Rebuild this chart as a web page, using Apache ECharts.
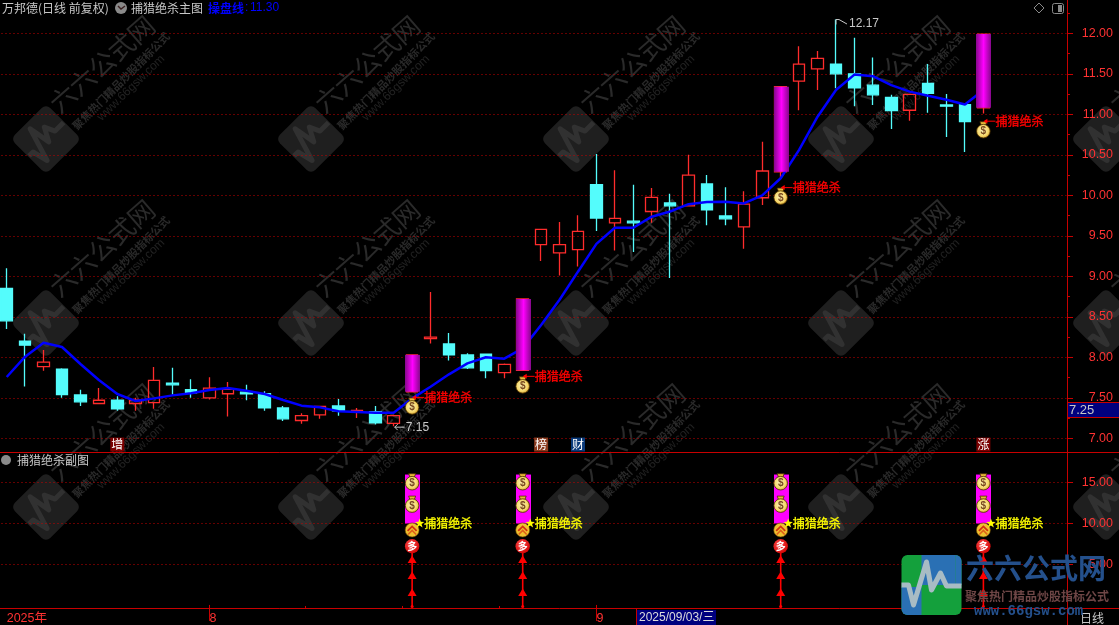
<!DOCTYPE html>
<html><head><meta charset="utf-8">
<style>html,body{margin:0;padding:0;background:#000}#c{width:1119px;height:625px}</style>
<script src="https://cdn.jsdelivr.net/npm/echarts@6/dist/echarts.min.js"></script>
</head><body><div id="c"></div>
<script>
// ---------- data ----------
const opens  = [8.85,8.20,7.885,7.855,7.535,7.43,7.47,7.43,7.44,7.68,7.60,7.50,7.55,7.57,7.55,7.375,7.22,7.29,7.40,7.33,7.33,7.185,7.575,8.23,8.164,8.03,8.04,7.81,7.84,9.39,9.29,9.33,10.13,9.66,9.68,9.80,9.905,9.87,10.14,9.745,9.61,9.97,10.29,11.41,11.56,11.62,11.50,11.36,11.21,11.05,11.38,11.115,11.12,11.08];
const closes = [8.45,8.15,7.94,7.54,7.45,7.47,7.365,7.47,7.715,7.66,7.56,7.62,7.605,7.55,7.375,7.24,7.28,7.395,7.34,7.345,7.19,7.28,8.03,8.25,8.03,7.87,7.835,7.913,8.72,9.58,9.39,9.555,9.72,9.715,9.66,9.975,9.87,10.25,9.82,9.71,9.89,10.30,11.34,11.62,11.69,11.50,11.325,11.24,11.045,11.246,11.26,11.10,10.91,11.99];
const lows   = [8.35,7.64,7.835,7.50,7.40,7.42,7.34,7.34,7.365,7.54,7.50,7.48,7.27,7.47,7.34,7.215,7.18,7.24,7.28,7.25,7.17,7.15,7.57,8.17,7.96,7.855,7.74,7.74,7.83,9.19,9.01,9.12,9.56,9.32,9.30,9.66,8.98,9.87,9.63,9.63,9.34,9.88,10.20,11.05,11.30,11.32,11.10,11.115,10.82,10.92,11.02,10.72,10.535,11.01];
const highs  = [9.10,8.29,8.09,7.865,7.60,7.62,7.52,7.50,7.88,7.87,7.73,7.755,7.695,7.66,7.58,7.40,7.31,7.395,7.485,7.375,7.40,7.29,8.03,8.806,8.30,8.05,8.04,7.925,8.72,9.58,9.67,9.755,10.51,10.31,10.13,10.09,10.02,10.50,10.25,10.10,10.05,10.66,11.34,11.84,11.78,12.17,11.946,11.70,11.24,11.24,11.62,11.25,11.135,11.99];
const tradeLine = [7.757,8.008,8.18,8.127,7.917,7.72,7.547,7.46,7.493,7.53,7.555,7.596,7.62,7.588,7.547,7.473,7.403,7.382,7.333,7.325,7.316,7.316,7.493,7.637,7.79,7.925,8.0,7.983,8.11,8.40,8.71,9.057,9.40,9.60,9.60,9.736,9.80,9.89,9.917,9.92,9.90,10.0,10.21,10.56,10.97,11.30,11.49,11.47,11.36,11.28,11.23,11.18,11.12,11.30];
const axisNames = ['2025年','','','','','','','','','','','8','','','','','','','','','','','','','','','','','','','','','9','','','','','','','','','','','','','','','','','','','','','','','','',''];
const priceTicks = [7,7.5,8,8.5,9,9.5,10,10.5,11,11.5,12];
const priceMinorTicks = [7.25,7.75,8.25,8.75,9.25,9.75,10.25,10.75,11.25,11.75,12.25];
const subTicks = [5,10,15];
const signalIndex = [22,28,42,53];
const bagPrice = [7.40,7.66,9.99,10.81];
const subBarLow = [10,10,10,10];
const subBarHigh = [16,16,16,16];
const subBags = [15,12.25];
const subGold = 9.2, subRed = 7.2, subText = 10;
const arrowLevels = [5.5,3.55,1.47];
const extremeIndex = [21,45];
const extremeValue = [7.15,12.17];
const tagIndex = [6,29,31,53];
const tagText = ['增','榜','财','涨'];
const tagColor = ['#7a0000','#8a3a1e','#0a3a7a','#7a0000'];
const tagLevel = 6.923;
const signalName = '捕猎绝杀';
const lastPrice = '7.25';
// ---------- style helpers ----------
const CJK = '"Noto Sans CJK SC","Liberation Sans",sans-serif';
const NUM = '"Liberation Sans","DejaVu Sans",sans-serif';
const LINE = '#c80000', RED='#ff3232', CYAN='#54fcfc', GREY='#c8c8c8';
const BAND_LEFT = -2.5, BAND_W = 1068.82;
const dot = [1,3];

function text(t,x,y,fill,font,align,heavy){
  const style={text:t,x:x,y:y,fill:fill,font:font,align:align||'left',verticalAlign:'middle',textAlign:align||'left',textVerticalAlign:'middle'};
  if(heavy){style.stroke=fill;style.lineWidth=heavy;}
  return {type:'text',style:style};
}
function bag(cx,cy){
  return [
    {type:'polygon',shape:{points:[[cx-3.5,cy-8],[cx+3.5,cy-8],[cx+1.8,cy-3.5],[cx-1.8,cy-3.5]]},style:{fill:'#e8b838',stroke:'#4a3000',lineWidth:.8}},
    {type:'circle',shape:{cx:cx,cy:cy+1.5,r:6.8},style:{fill:{type:'radial',x:.45,y:.45,r:.6,colorStops:[{offset:0,color:'#fff6b8'},{offset:.65,color:'#f5d76a'},{offset:1,color:'#c88a18'}]},stroke:'#4a3000',lineWidth:.8}},
    text('$',cx,cy+1.8,'#7a4a20','bold 10px '+NUM,'center')
  ];
}
// main-pane bars
function renderMagenta(p,api){
  const a=api.coord([api.value(0),api.value(2)]), b=api.coord([api.value(0),api.value(1)]);
  const x=Math.round(a[0])-7;
  return {type:'rect',shape:{x:x,y:a[1],width:15,height:b[1]-a[1]},style:{fill:{type:'linear',x:0,y:0,x2:1,y2:0,colorStops:[{offset:0,color:'#86088c'},{offset:.5,color:'#ff00ff'},{offset:1,color:'#86088c'}]}}};
}
function renderBag(p,api){
  const c=api.coord([api.value(0),api.value(1)]);
  const x=c[0], y=c[1];
  return {type:'group',children:bag(x,y).concat([
    {type:'line',shape:{x1:x+2,y1:y-8.5,x2:x+12,y2:y-8.5},style:{stroke:'#ff0000',lineWidth:1}},
    {type:'polygon',shape:{points:[[x,y-8.5],[x+4,y-11],[x+4,y-6]]},style:{fill:'#ff0000'}},
    text(signalName,x+12,y-8.5,'#ff0000','12px '+CJK,'left',.35)
  ])};
}
function renderExtreme(p,api){
  const c=api.coord([api.value(0),api.value(1)]);
  const v=api.value(1), x=c[0], y=c[1];
  const up=p.dataIndex===1;
  const tx=x+(up?13:12), ty=y+(up?4.5:1.5);
  const kids=[text(v.toFixed(2),tx,ty,GREY,'12px '+NUM)];
  if(up){
    kids.push({type:'polyline',shape:{points:[[x,y+5],[x,y],[x+3,y],[x+11,ty]]},style:{stroke:GREY,fill:'none',lineWidth:1}});
  }else{
    kids.push({type:'polyline',shape:{points:[[x+4,y-2],[x+1,y+1],[x+4,y+4]]},style:{stroke:GREY,fill:'none',lineWidth:1}});
    kids.push({type:'line',shape:{x1:x+1,y1:y+1,x2:x+11,y2:y+1},style:{stroke:GREY,lineWidth:1}});
  }
  return {type:'group',children:kids};
}
function renderTag(p,api){
  const c=api.coord([api.value(0),api.value(1)]);
  const x=c[0]-7, y=c[1]-7;
  const i=p.dataIndex;
  return {type:'group',children:[
    {type:'rect',shape:{x:x,y:y,width:14,height:14},style:{fill:tagColor[i]}},
    text(tagText[i],c[0],c[1],'#ffffff','12px '+CJK,'center')
  ]};
}
function renderSignal(p,api){
  const i=api.value(0);
  const X=api.coord([i,0])[0];
  const Y=v=>api.coord([i,v])[1];
  const top=Y(api.value(2)), bot=Y(api.value(1));
  const x=Math.round(X)-7;
  const kids=[];
  kids.push({type:'line',shape:{x1:X,y1:Y(subRed),x2:X,y2:Y(-0.15)},style:{stroke:'#ff0000',lineWidth:1.6}});
  arrowLevels.forEach(v=>{const y=Y(v);kids.push({type:'polygon',shape:{points:[[X,y-4.5],[X+4.5,y+3],[X-4.5,y+3]]},style:{fill:'#ff0000'}});});
  kids.push({type:'circle',shape:{cx:X,cy:Y(-0.2),r:1.5},style:{fill:'#ff0000'}});
  kids.push({type:'rect',shape:{x:x,y:top,width:15,height:bot-top},style:{fill:'#ff00ff'}});
  subBags.forEach(v=>{bag(X,Y(v)-1).forEach(k=>kids.push(k));});
  const gy=Y(subGold), ry=Y(subRed);
  kids.push({type:'circle',shape:{cx:X,cy:gy,r:7},style:{fill:'#f0c030',stroke:'#6a4a00',lineWidth:.6}});
  kids.push({type:'polyline',shape:{points:[[X-4.5,gy+1],[X,gy-3.5],[X+4.5,gy+1]]},style:{stroke:'#d03010',fill:'none',lineWidth:1.8}});
  kids.push({type:'polyline',shape:{points:[[X-4,gy+4.5],[X,gy+.5],[X+4,gy+4.5]]},style:{stroke:'#e06018',fill:'none',lineWidth:1.6}});
  kids.push({type:'circle',shape:{cx:X,cy:ry,r:7.2},style:{fill:{type:'radial',x:.4,y:.35,r:.7,colorStops:[{offset:0,color:'#ff5050'},{offset:1,color:'#d00000'}]}}});
  kids.push(text('多',X,ry,'#ffffff','bold 10px '+CJK,'center'));
  const sx=X+7.5, sy=Y(subText), pts=[];
  for(let k=0;k<10;k++){const r=k%2?2:5,a=-Math.PI/2+k*Math.PI/5;pts.push([sx+r*Math.cos(a),sy+r*Math.sin(a)]);}
  kids.push({type:'polygon',shape:{points:pts},style:{fill:'#ffff00'}});
  kids.push(text(signalName,X+12,sy,'#ffff00','12px '+CJK,'left',.3));
  return {type:'group',children:kids};
}

// ---------- decoration ----------
const pulse=[[-30,0],[-23,0],[-18,20],[-5,-23],[0,5],[9,-12],[15,1],[30,1]];
const tileX=[46,311,576,841,1106], tileY=[139,323,507];
const gfx=[];
tileY.forEach(ty=>tileX.forEach(tx=>{
  gfx.push({type:'group',x:tx,y:ty,z:-1,silent:true,children:[
    {type:'group',rotation:Math.PI/4,children:[
      {type:'rect',shape:{x:-25,y:-25,width:50,height:50,r:6},style:{fill:'#1f1f1f'},z:-1},
      {type:'polyline',shape:{points:pulse.map(q=>[q[0]*.8,q[1]*.8])},style:{stroke:'#313131',fill:'none',lineWidth:5,lineJoin:'round'},z:-1}
    ]},
    {type:'text',x:56,y:-75,rotation:.72,z:-1,style:{text:'六六公式网',fill:'#2a2a2a',font:'26px '+CJK,align:'center',verticalAlign:'middle',textAlign:'center',textVerticalAlign:'middle'}},
    {type:'text',x:75,y:-58,rotation:Math.PI/4,z:-1,style:{text:'聚焦热门精品炒股指标公式',fill:'#2a2a2a',font:'bold 11px '+CJK,align:'center',verticalAlign:'middle',textAlign:'center',textVerticalAlign:'middle'}},
    {type:'text',x:85,y:-51,rotation:.77,z:-1,style:{text:'www.66gsw.com',fill:'#222222',font:'12px '+NUM,align:'center',verticalAlign:'middle',textAlign:'center',textVerticalAlign:'middle'}}
  ]});
}));
function gline(x1,y1,x2,y2,c){return {type:'line',z:60,silent:true,shape:{x1:x1,y1:y1,x2:x2,y2:y2},style:{stroke:c||LINE,lineWidth:1}};}
function gtext(t,x,y,fill,font,align){const e=text(t,x,y,fill,font,align);e.z=70;e.silent=true;return e;}
gfx.push(gline(1067.5,0,1067.5,625),gline(0,452.5,1119,452.5),gline(0,608.5,1119,608.5));
[305,402,499].forEach(x=>gfx.push(gline(x+.5,606,x+.5,609)));
gfx.push(gline(636.5,609,636.5,625));
// header texts
gfx.push(gtext('万邦德(日线 前复权)',2,8,GREY,'12px '+CJK));
gfx.push({type:'circle',z:70,silent:true,shape:{cx:121,cy:8,r:6},style:{fill:'#8a8a8a'}});
gfx.push({type:'polyline',z:71,silent:true,shape:{points:[[118,6],[121,9],[125,6]]},style:{stroke:'#3a2020',fill:'none',lineWidth:1.4}});
gfx.push(gtext('捕猎绝杀主图',131,8,GREY,'12px '+CJK));
gfx.push(gtext('操盘线',208,8,'#0000ff','bold 12px '+CJK));
gfx.push(gtext(':',245,8,'#0000ff','12px '+NUM));
gfx.push(gtext(tradeLine[tradeLine.length-1].toFixed(2),250,8,'#0000ff','12px '+NUM));
gfx.push({type:'circle',z:70,silent:true,shape:{cx:6,cy:460,r:5},style:{fill:'#8a8a8a'}});
gfx.push(gtext('捕猎绝杀副图',17,460,GREY,'12px '+CJK));
gfx.push({type:'polygon',z:70,silent:true,shape:{points:[[1039,3],[1044,8],[1039,13],[1034,8]]},style:{fill:'none',stroke:'#8a8a8a',lineWidth:1}});
gfx.push({type:'rect',z:70,silent:true,shape:{x:1052.5,y:3.5,width:11,height:10,r:2},style:{fill:'none',stroke:'#8a8a8a',lineWidth:1}});
gfx.push({type:'rect',z:70,silent:true,shape:{x:1058,y:5,width:4,height:7},style:{fill:'#8a8a8a'}});
// price box
gfx.push({type:'rect',z:65,silent:true,shape:{x:1068,y:403,width:51,height:14},style:{fill:'#00007e'}});
gfx.push(gline(1068,402.5,1119,402.5),gline(1068,417.5,1119,417.5));
gfx.push(gtext(lastPrice,1069,410.5,GREY,'13px '+NUM));
// date strip
gfx.push({type:'rect',z:65,silent:true,shape:{x:637,y:610,width:79,height:15},style:{fill:'#00007e'}});
gfx.push(gtext('2025/09/03/三',639,618,'#dcdcdc','12px '+NUM+','+CJK));
gfx.push(gtext('日线',1080,618,GREY,'12px '+CJK));
// corner logo
gfx.push({type:'group',x:931.5,y:585,z:100,silent:true,children:[
  {type:'rect',z:100,shape:{x:-30,y:-30,width:60,height:60,r:6},style:{fill:'#14a03c'}},
  {type:'rect',z:101,shape:{x:-10,y:-30,width:34,height:30},style:{fill:'#2a70b4'}},
  {type:'rect',z:101,shape:{x:24,y:-30,width:6,height:30,r:[0,6,0,0]},style:{fill:'#2a70b4'}},
  {type:'rect',z:101,shape:{x:-30,y:2,width:20,height:28,r:[0,0,0,6]},style:{fill:'#2a70b4'}},
  {type:'polyline',z:102,shape:{points:pulse},style:{stroke:'#a8bcc4',fill:'none',lineWidth:5,lineJoin:'round'}}
]});
gfx.push(gtext('六六公式网',966,568,'#24508c','bold 28px '+CJK));
gfx.push(gtext('聚焦热门精品炒股指标公式',965,596,'#6e4646','bold 12px '+CJK));
gfx.push(gtext('www.66gsw.com',974,611,'#24508c','bold 14px "Liberation Mono",monospace'));

// ---------- chart ----------
const chart=echarts.init(document.getElementById('c'),null,{renderer:'canvas',width:1119,height:625});
const candle=opens.map((o,i)=>[o,closes[i],lows[i],highs[i]]);
const yBase={type:'value',scale:false,position:'right',offset:0.7};
chart.setOption({
  backgroundColor:'#000000',
  animation:false,
  graphic:{elements:gfx},
  grid:[
    {left:BAND_LEFT,width:BAND_W,top:0,height:452,containLabel:false,show:false,outerBoundsMode:'none'},
    {left:BAND_LEFT,width:BAND_W,top:453,height:156,containLabel:false,show:false,outerBoundsMode:'none'}
  ],
  xAxis:[
    {type:'category',gridIndex:0,data:axisNames,show:false,boundaryGap:true},
    {type:'category',gridIndex:1,data:axisNames,boundaryGap:true,position:'bottom',
      axisLine:{show:false},
      axisTick:{show:true,alignWithLabel:true,length:16,lineStyle:{color:LINE},interval:(i,v)=>v==='8'||v==='9'},
      axisLabel:{show:true,interval:0,hideOverlap:false,color:RED,fontSize:12.5,fontFamily:'"Liberation Sans","Noto Sans CJK SC",sans-serif',align:'left',margin:3,lineHeight:14}}
  ],
  yAxis:[
    Object.assign({},yBase,{gridIndex:0,min:6.831,max:12.411,
      axisLine:{show:false},
      axisTick:{show:true,length:6,customValues:priceTicks,lineStyle:{color:LINE}},
      axisLabel:{show:true,customValues:priceTicks,color:RED,fontSize:12.5,fontFamily:NUM,align:'right',margin:46,formatter:v=>(+v).toFixed(2)},
      splitLine:{show:true,lineStyle:{color:LINE,type:dot,width:1}}}),
    Object.assign({},yBase,{gridIndex:0,min:6.831,max:12.411,
      axisLine:{show:false},axisLabel:{show:false},splitLine:{show:false},
      axisTick:{show:true,length:3,customValues:priceMinorTicks,lineStyle:{color:LINE}}}),
    Object.assign({},yBase,{gridIndex:1,min:-0.497,max:18.644,
      axisLine:{show:false},
      axisTick:{show:true,length:6,customValues:subTicks,lineStyle:{color:LINE}},
      axisLabel:{show:true,customValues:subTicks,color:RED,fontSize:12.5,fontFamily:NUM,align:'right',margin:46,formatter:v=>(+v).toFixed(2)},
      splitLine:{show:true,lineStyle:{color:LINE,type:dot,width:1}}})
  ],
  series:[
    {type:'candlestick',xAxisIndex:0,yAxisIndex:0,data:candle,barWidth:12,z:2,
      itemStyle:{color:'rgba(0,0,0,0)',color0:CYAN,borderColor:'#ff2c2c',borderColor0:CYAN,borderWidth:1.3}},
    {type:'line',xAxisIndex:0,yAxisIndex:0,data:tradeLine,z:3,showSymbol:false,smooth:false,lineStyle:{color:'#0000ff',width:2.5}},
    {type:'custom',xAxisIndex:0,yAxisIndex:0,z:4,renderItem:renderMagenta,data:signalIndex.map(i=>[i,opens[i],closes[i]])},
    {type:'custom',xAxisIndex:0,yAxisIndex:0,z:5,renderItem:renderBag,data:signalIndex.map((i,k)=>[i,bagPrice[k]])},
    {type:'custom',xAxisIndex:0,yAxisIndex:0,z:5,renderItem:renderExtreme,data:extremeIndex.map((i,k)=>[i,extremeValue[k]])},
    {type:'custom',xAxisIndex:0,yAxisIndex:0,z:5,renderItem:renderTag,data:tagIndex.map(i=>[i,tagLevel])},
    {type:'custom',xAxisIndex:1,yAxisIndex:2,z:5,renderItem:renderSignal,data:signalIndex.map((i,k)=>[i,subBarLow[k],subBarHigh[k]])}
  ]
});
</script></body></html>
